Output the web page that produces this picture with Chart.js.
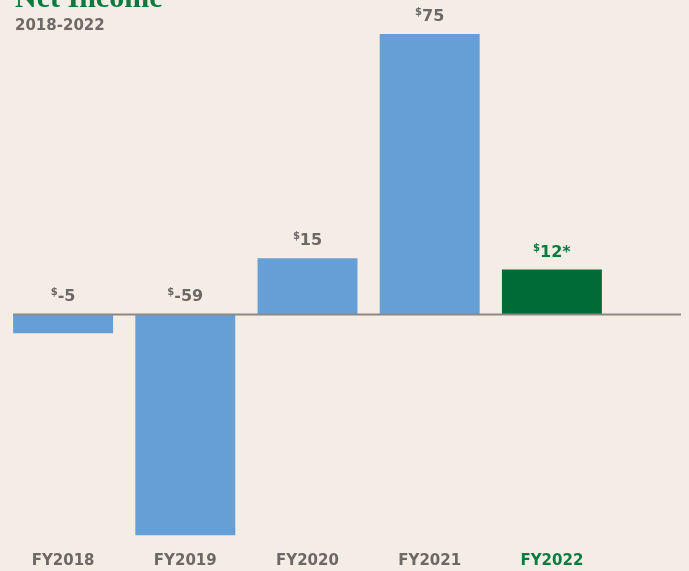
<!DOCTYPE html>
<html>
<head>
<meta charset="utf-8">
<script src="https://cdn.jsdelivr.net/npm/chart.js@4.4.1/dist/chart.umd.min.js"></script>
<style>
  html, body {
    margin: 0;
    padding: 0;
    background: #f4ede6;
    overflow: hidden;
  }
  .wrap {
    position: relative;
    width: 689px;
    height: 571px;
    overflow: hidden;
  }
  .title {
    position: absolute;
    left: 15px;
    top: -18px;
    font-family: "Liberation Serif", serif;
    font-weight: bold;
    font-size: 30px;
    line-height: 1;
    color: #0b7a3e;
    white-space: nowrap;
  }
  .subtitle {
    position: absolute;
    left: 15px;
    top: 18px;
    font-family: "DejaVu Sans", sans-serif;
    font-weight: bold;
    font-size: 15px;
    line-height: 1;
    color: #6e6a67;
  }
</style>
</head>
<body>
<div class="wrap">
  <canvas id="incomeChart" width="689" height="579"></canvas>
  <div class="title">Net Income</div>
  <div class="subtitle">2018-2022</div>
</div>

<script>
// Lucro líquido por ano fiscal (milhões USD)
const years = ["FY2018", "FY2019", "FY2020", "FY2021", "FY2022"];
const netIncome = [-5, -59, 15, 75, 12];
const valueNotes = ["", "", "", "", "*"];

const highlightIndex = 4;
const blue = "#669fd6";
const green = "#006b37";
const gray = "#6b6866";
const labelGreen = "#0b7a3e";

// linha do zero, mais comprida que a área do gráfico
const zeroLine = {
  id: "zeroLine",
  afterDatasetsDraw(chart) {
    const { ctx, chartArea, scales } = chart;
    const y = scales.y.getPixelForValue(0);
    ctx.save();
    ctx.strokeStyle = "#8c8886";
    ctx.lineWidth = 2;
    ctx.beginPath();
    ctx.moveTo(chartArea.left + 11, y);
    ctx.lineTo(chart.width - 8, y);
    ctx.stroke();
    ctx.restore();
  },
};

// rótulos "$valor" com o cifrão pequeno em cima
const valueLabels = {
  id: "valueLabels",
  afterDatasetsDraw(chart) {
    const { ctx } = chart;
    const meta = chart.getDatasetMeta(0);
    ctx.save();
    meta.data.forEach((bar, i) => {
      const text = netIncome[i] + valueNotes[i];
      const top = Math.min(bar.y, bar.base);
      const baseY = top - 13;

      ctx.font = "bold 10px 'DejaVu Sans'";
      const dollarW = ctx.measureText("$").width;
      ctx.font = "bold 16px 'DejaVu Sans'";
      const textW = ctx.measureText(text).width;
      const startX = bar.x - (dollarW + textW) / 2;

      ctx.fillStyle = i === highlightIndex ? labelGreen : gray;
      ctx.textAlign = "left";
      ctx.textBaseline = "alphabetic";

      ctx.font = "bold 10px 'DejaVu Sans'";
      ctx.fillText("$", startX, baseY - 6);
      ctx.font = "bold 16px 'DejaVu Sans'";
      ctx.fillText(text, startX + dollarW, baseY);
    });
    ctx.restore();
  },
};

new Chart(document.getElementById("incomeChart"), {
  type: "bar",

  data: {
    labels: years,

    datasets: [
      {
        label: "Net Income",
        data: netIncome,
        backgroundColor: netIncome.map((v, i) => (i === highlightIndex ? green : blue)),
        borderWidth: 0,
        categoryPercentage: 1,
        barPercentage: 0.818,
      },
    ],
  },

  options: {
    responsive: false,
    animation: false,

    layout: {
      padding: {
        left: 2,
        right: 76,
        top: 0,
        bottom: 0,
      },
    },

    plugins: {
      legend: { display: false },
      tooltip: { enabled: false },
    },

    scales: {
      x: {
        grid: {
          display: false,
          drawTicks: false,
        },
        border: { display: false },

        ticks: {
          padding: 9,
          color: (c) => (c.index === highlightIndex ? labelGreen : gray),
          font: {
            family: "'DejaVu Sans'",
            size: 15,
            weight: "bold",
          },
        },
      },

      y: {
        display: false,
        min: -61.1,
        max: 84.07,
      },
    },
  },

  plugins: [zeroLine, valueLabels],
});
</script>
</body>
</html>
